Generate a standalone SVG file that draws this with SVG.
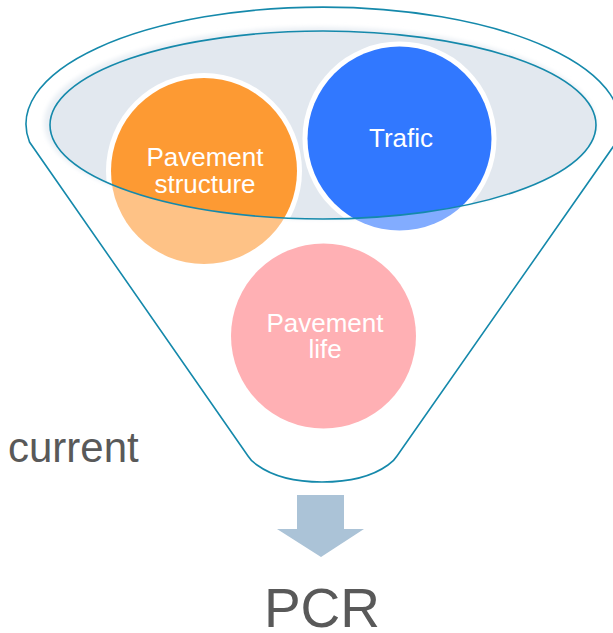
<svg xmlns="http://www.w3.org/2000/svg" width="613" height="633" viewBox="0 0 613 633">
<style>
.rim{fill:#ffffff;stroke:#1589AB;stroke-width:1.6}
.lbl{font-family:"Liberation Sans",Arial,sans-serif;font-size:26px;fill:#ffffff;text-anchor:middle}
.big{font-family:"Liberation Sans",Arial,sans-serif;fill:#595959}
.ring{fill:#ffffff}
</style>
<defs>
<clipPath id="inner"><ellipse cx="323" cy="125" rx="273" ry="94"/></clipPath>
<filter id="blur" x="-10%" y="-20%" width="120%" height="140%"><feGaussianBlur stdDeviation="2"/></filter>
</defs>
<rect width="613" height="633" fill="#ffffff"/>
<g id="funnel">
<path class="rim" d="M 29.5,142 A 297,117 0 1 1 616.5,142 L 397,456 Q 394,461 388,465 C 370,478 345,482 322,482 C 299,482 275,478 257,465 Q 251,461 248,456 Z"/>
<ellipse cx="320" cy="123" rx="276" ry="96" fill="#EAEFF4" filter="url(#blur)"/>
<ellipse cx="323" cy="125" rx="273" ry="94" fill="#E2E8EF"/>
</g>
<g id="pavement-structure">
<circle cx="204" cy="171" r="93" fill="#FEC286"/>
<g clip-path="url(#inner)">
<circle class="ring" cx="204" cy="171" r="98"/>
<circle cx="204" cy="171" r="93" fill="#FD9A33"/>
</g>
<text class="lbl" x="205" y="166">Pavement</text>
<text class="lbl" x="205" y="193">structure</text>
</g>
<g id="trafic">
<circle cx="399.5" cy="138.5" r="92" fill="#82ACFF"/>
<g clip-path="url(#inner)">
<circle class="ring" cx="399.5" cy="138.5" r="97"/>
<circle cx="399.5" cy="138.5" r="92" fill="#3178FF"/>
</g>
<text class="lbl" x="401" y="147">Trafic</text>
</g>
<g id="pavement-life">
<circle cx="323.5" cy="336" r="92.5" fill="#FFB0B4"/>
<text class="lbl" x="325" y="332">Pavement</text>
<text class="lbl" x="325" y="358">life</text>
</g>
<ellipse id="rim-inner" cx="323" cy="125" rx="273" ry="94" fill="none" stroke="#1589AB" stroke-width="1.6"/>
<g id="current-label">
<text class="big" x="8" y="462" font-size="42">current</text>
</g>
<g id="connectors">
<polygon points="297,495 344,495 344,529 364,529 321,557 277,529 297,529" fill="#ABC3D7"/>
</g>
<g id="pcr">
<text class="big" x="322" y="627" font-size="55" text-anchor="middle">PCR</text>
</g>
</svg>
